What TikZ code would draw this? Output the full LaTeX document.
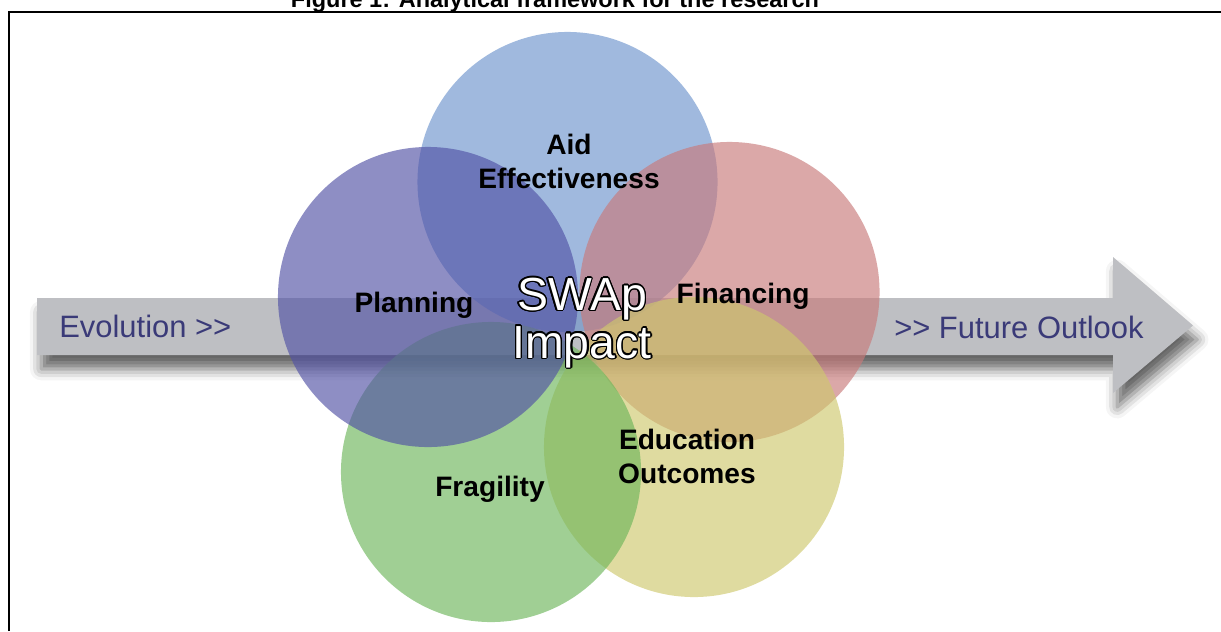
\documentclass[tikz,border=0pt]{standalone}
\usepackage{fontspec}
\setmainfont{Liberation Sans}
\usepackage{contour}
\usepackage{tikz}
\usetikzlibrary{shadows.blur}
\contourlength{0.9pt}

\definecolor{aidblue}{RGB}{109,148,205}
\definecolor{planpurple}{RGB}{82,82,165}
\definecolor{finred}{RGB}{200,122,122}
\definecolor{fraggreen}{RGB}{109,182,91}
\definecolor{eduyellow}{RGB}{206,200,109}
\definecolor{arrowgray}{RGB}{190,191,195}
\definecolor{arrowtext}{RGB}{58,58,120}

\begin{document}
\begin{tikzpicture}[
    x=0.025cm, y=-0.025cm,
    disc/.style={circle, minimum size=7.5cm, inner sep=0pt, fill opacity=0.65},
    lbl/.style={font=\fontsize{20}{23.5}\selectfont\bfseries, align=center,
                anchor=base, inner sep=0pt},
    flow/.style={font=\fontsize{22}{26}\selectfont, text=arrowtext,
                 anchor=base west, inner sep=0pt}
]
\useasboundingbox (0,0) rectangle (1221,631);

% caption and frame
\node[font=\fontsize{16.7}{20}\selectfont\bfseries, anchor=base, inner sep=0pt] (title)
    at (555,7.5) {Figure 1: Analytical framework for the research};
\draw[line width=1.4pt] (9,631) -- (9,12) -- (1221,12);

% time arrow behind the circles
\fill[arrowgray, blur shadow={shadow xshift=3pt, shadow yshift=-10pt,
      shadow blur radius=8pt, shadow opacity=60}]
    (37,298) -- (1113,298) -- (1113,257) -- (1193,325.5) -- (1113,393)
    -- (1113,355) -- (37,355) -- cycle;
\node[flow] (past) at (59,337) {Evolution >{}>};
\node[flow] (future) at (894,338) {>{}> Future Outlook};

% the five themes
\node[disc, fill=aidblue] (aid) at (567.5,182) {};
\node[disc, fill=finred] (fin) at (729.5,292) {};
\node[disc, fill=eduyellow] (edu) at (694,447) {};
\node[disc, fill=fraggreen] (frag) at (491,472) {};
\node[disc, fill=planpurple] (plan) at (428,297) {};

% base of a two-line label sits on its last line
\node[lbl] (aidtxt) at (569,188) {Aid\\Effectiveness};
\node[lbl] (plantxt) at (414,312) {Planning};
\node[lbl] (fintxt) at (743,303) {Financing};
\node[lbl] (fragtxt) at (490,496) {Fragility};
\node[lbl] (edutxt) at (687,483) {Education\\Outcomes};

\node[font=\fontsize{33}{34}\selectfont, align=center, anchor=base, inner sep=0pt] (swap)
    at (582,358) {\contour{black}{\textcolor{white}{SWAp}}\\
                  \contour{black}{\textcolor{white}{Impact}}};
\end{tikzpicture}
\end{document}
